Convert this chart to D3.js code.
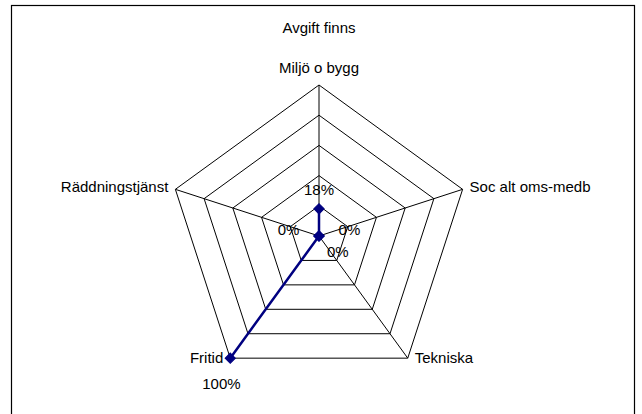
<!DOCTYPE html>
<html>
<head>
<meta charset="utf-8">
<script src="https://cdn.jsdelivr.net/npm/d3@7"></script>
<style>
	body { margin: 0; background: #fff; }
	svg { display: block; font-family: "Liberation Sans", Arial, sans-serif; }
</style>
</head>
<body>
<svg id="chart" width="642" height="414"></svg>
<script>
// Chart data
var title = "Avgift finns";
var categories = ["Miljö o bygg", "Soc alt oms-medb", "Tekniska", "Fritid", "Räddningstjänst"];
var values = [0.18, 0, 0, 1, 0];
var gridLevels = [0.2, 0.4, 0.6, 0.8, 1];

var svg = d3.select("#chart");

// Geometry
var cx = 319, cy = 236, radius = 151;
var navy = "#000080";

// Chart frame (bottom edge falls outside the window)
svg.append("rect")
	.attr("x", 11.5)
	.attr("y", 5.5)
	.attr("width", 623)
	.attr("height", 420)
	.attr("fill", "#fff")
	.attr("stroke", "#000")
	.attr("stroke-width", 1.2);

// Title
svg.append("text")
	.attr("x", cx)
	.attr("y", 33)
	.attr("text-anchor", "middle")
	.style("font-size", "15px")
	.attr("fill", "#000")
	.text(title);

var g = svg.append("g").attr("transform", "translate(" + cx + "," + cy + ")");

var r = d3.scaleLinear().domain([0, 1]).range([0, radius]);
var angle = d3.scalePoint().domain(categories).range([0, 2 * Math.PI * (categories.length - 1) / categories.length]);

function px(c, v) { return Math.sin(angle(c)) * r(v); }
function py(c, v) { return -Math.cos(angle(c)) * r(v); }

// Grid pentagons
var gridLine = d3.lineRadial()
	.angle(function(d) { return angle(d.c); })
	.radius(function(d) { return r(d.v); })
	.curve(d3.curveLinearClosed);

g.selectAll(".grid")
	.data(gridLevels)
	.enter().append("path")
		.attr("class", "grid")
		.attr("d", function(lv) { return gridLine(categories.map(function(c) { return {c: c, v: lv}; })); })
		.attr("fill", "none")
		.attr("stroke", "#000")
		.attr("stroke-width", 1);

// Spokes
g.selectAll(".spoke")
	.data(categories)
	.enter().append("line")
		.attr("class", "spoke")
		.attr("x1", 0).attr("y1", 0)
		.attr("x2", function(c) { return px(c, 1); })
		.attr("y2", function(c) { return py(c, 1); })
		.attr("stroke", "#000")
		.attr("stroke-width", 1);

// Category labels
g.selectAll(".cat")
	.data(categories)
	.enter().append("text")
		.attr("class", "cat")
		.attr("x", function(c) {
			var s = Math.sin(angle(c));
			return px(c, 1) + (s > 0.01 ? 7 : s < -0.01 ? -7 : 0);
		})
		.attr("y", function(c) {
			var co = Math.max(0, Math.cos(angle(c)));
			return py(c, 1) - 17 * Math.pow(co, 1.5);
		})
		.attr("dy", "0.35em")
		.attr("text-anchor", function(c) {
			var s = Math.sin(angle(c));
			return s > 0.01 ? "start" : s < -0.01 ? "end" : "middle";
		})
		.style("font-size", "15px")
		.attr("fill", "#000")
		.text(function(c) { return c; });

// Series
var series = categories.map(function(c, i) { return {c: c, v: values[i]}; });

g.append("path")
	.attr("d", gridLine(series))
	.attr("fill", "none")
	.attr("stroke", navy)
	.attr("stroke-width", 2.5)
	.attr("stroke-linejoin", "round");

g.selectAll(".marker")
	.data(series)
	.enter().append("path")
		.attr("class", "marker")
		.attr("d", d3.symbol(d3.symbolSquare, 52))
		.attr("transform", function(d) { return "translate(" + px(d.c, d.v) + "," + py(d.c, d.v) + ") rotate(45)"; })
		.attr("fill", navy)
		.attr("stroke", navy)
		.attr("stroke-width", 1);

// Value labels (those on the outer ring are pushed clear of the category label)
g.selectAll(".val")
	.data(series)
	.enter().append("text")
		.attr("class", "val")
		.attr("x", function(d) { return px(d.c, d.v) + (d.v >= 1 ? 15 : 32) * Math.sin(angle(d.c)); })
		.attr("y", function(d) { return py(d.c, d.v) - (d.v >= 1 ? 32 : 19) * Math.cos(angle(d.c)); })
		.attr("dy", "0.35em")
		.attr("text-anchor", "middle")
		.style("font-size", "15px")
		.attr("fill", "#000")
		.text(function(d) { return d3.format(".0%")(d.v); });
</script>
</body>
</html>
